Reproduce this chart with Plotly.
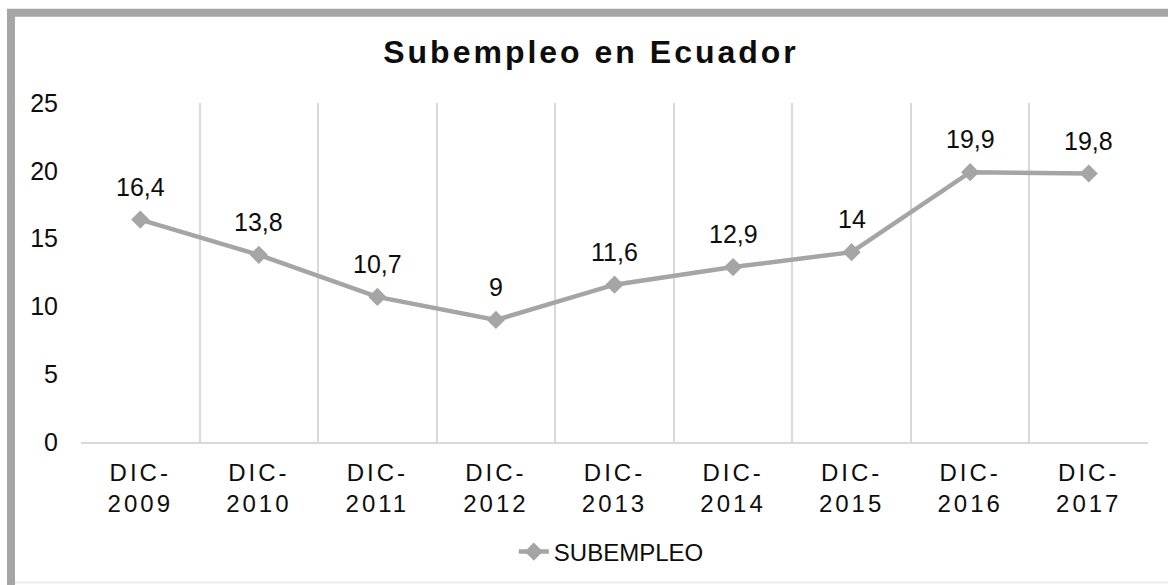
import plotly.graph_objects as go

categories = ["DIC-<br>2009", "DIC-<br>2010", "DIC-<br>2011", "DIC-<br>2012", "DIC-<br>2013",
              "DIC-<br>2014", "DIC-<br>2015", "DIC-<br>2016", "DIC-<br>2017"]
subempleo = [16.4, 13.8, 10.7, 9, 11.6, 12.9, 14, 19.9, 19.8]
labels = ["16,4", "13,8", "10,7", "9", "11,6", "12,9", "14", "19,9", "19,8"]
y_ticks = [0, 5, 10, 15, 20, 25]

FONT = "Liberation Sans, Arial, sans-serif"
GRAY = "#a5a5a5"
TXT = "#0d0d0d"

fig = go.Figure()
fig.add_trace(go.Scatter(
    x=categories, y=subempleo, mode="lines+markers", name="SUBEMPLEO",
    line=dict(color=GRAY, width=4.5),
    marker=dict(symbol="diamond", size=14, color=GRAY),
))

for c, v, t in zip(categories, subempleo, labels):
    fig.add_annotation(x=c, y=v, text=t, showarrow=False, yshift=33,
                       font=dict(family=FONT, size=25, color=TXT))

fig.update_layout(
    width=1168, height=585,
    margin=dict(l=81, r=20, t=103, b=142),
    paper_bgcolor="white", plot_bgcolor="white",
    font=dict(family=FONT, color=TXT),
    title=dict(text="<b>Subempleo en Ecuador</b>", x=591 / 1168, xanchor="center",
               y=1 - 52 / 585, yanchor="middle",
               font=dict(family=FONT, size=32, color=TXT)),
    showlegend=True,
    legend=dict(orientation="h", x=0.497, xanchor="center", y=-0.3206, yanchor="middle",
                font=dict(family=FONT, size=24, color=TXT)),
    xaxis=dict(type="category", range=[-0.5, 8.5], tickson="boundaries",
               showgrid=True, gridcolor="#d9d9d9", gridwidth=1.5,
               showline=True, linecolor="#d9d9d9", linewidth=1.5,
               ticks="", ticklabelstandoff=8,
               tickfont=dict(family=FONT, size=24, color=TXT), zeroline=False),
    yaxis=dict(range=[0, 25], tickvals=y_ticks, showgrid=False, zeroline=False,
               showline=False, ticks="", ticklabelstandoff=22,
               tickfont=dict(family=FONT, size=25, color=TXT)),
)

# chart border (top and left) and faint bottom edge
xl = (11 - 81) / 1067
xr = 1.05
yt = (443 - 12.5) / 340
yb = (443 - 600) / 340
fig.add_shape(type="path", xref="paper", yref="paper",
              path=f"M {xl},{yb} L {xl},{yt} L {xr},{yt}",
              line=dict(color=GRAY, width=8))
fig.add_shape(type="line", xref="paper", yref="paper",
              x0=(15 - 81) / 1067, x1=xr, y0=(443 - 584) / 340, y1=(443 - 584) / 340,
              line=dict(color="#ececec", width=2))

post = """
document.body.style.margin='0';
var gd=document.getElementById('{plot_id}');
gd.querySelectorAll('.gtitle').forEach(function(e){e.style.letterSpacing='3px';});
gd.querySelectorAll('.xtick text').forEach(function(e){e.style.letterSpacing='3px';});
"""
fig.write_html("out.html", post_script=post, config={"displayModeBar": False})
